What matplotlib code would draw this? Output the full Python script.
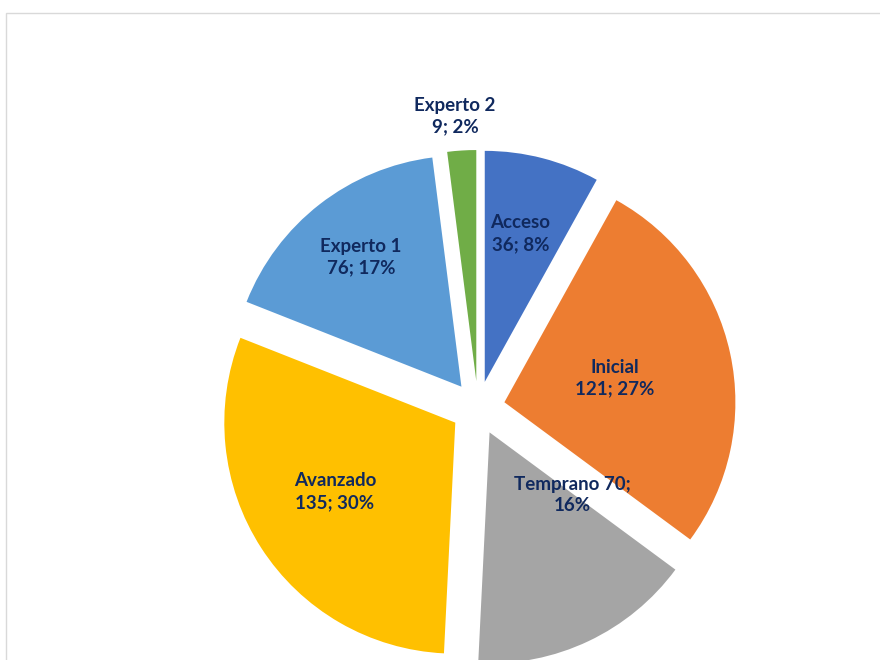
import numpy as np
import matplotlib
matplotlib.use("Agg")
from matplotlib import pyplot as plt
from matplotlib.patches import Rectangle

categories = ["Acceso", "Inicial", "Temprano", "Avanzado", "Experto 1", "Experto 2"]
values = [36, 121, 70, 135, 76, 9]
colors = ["#4472C4", "#ED7D31", "#A5A5A5", "#FFC000", "#5B9BD5", "#70AD47"]
label_texts = ["Acceso\n36; 8%", "Inicial\n121; 27%", "Temprano 70;\n16%",
               "Avanzado\n135; 30%", "Experto 1\n76; 17%", "Experto 2\n9; 2%"]
# label placement: (fraction of radius, angle nudge in degrees)
label_place = [(0.66, 1), (0.49, 0), (0.45, 27.6), (0.60, -3), (0.71, 0), (1.15, 1)]

text_color = "#10295E"


def run():
    fig = plt.figure(figsize=(8.8, 6.6), dpi=100)
    ax = fig.add_axes([0, 0, 1, 1])
    radius = 231
    center = (478, 252)
    explode = [27] * len(values)  # pie explode is in data units here
    wedges, _ = ax.pie(values, colors=colors, startangle=90, counterclock=False,
                       explode=explode, radius=radius, center=center,
                       wedgeprops=dict(linewidth=0))
    for w, txt, (frac, nudge) in zip(wedges, label_texts, label_place):
        mid = np.radians((w.theta1 + w.theta2) / 2. + nudge)
        cx, cy = w.center
        ax.text(cx + frac * radius * np.cos(mid), cy + frac * radius * np.sin(mid),
                txt, ha='center', va='center', color=text_color,
                fontsize=13.5, fontweight='bold', family='Lato', linespacing=1.35)
    ax.set_xlim(0, 880)
    ax.set_ylim(0, 660)
    ax.set_aspect('equal')
    ax.axis('off')
    fig.add_artist(Rectangle((5.5 / 880, -0.1), 2, 1 - 12.5 / 660 + 0.1,
                             transform=fig.transFigure, fill=False,
                             ec='#D9D9D9', lw=1))
    fig.savefig('out.png', dpi=100)


if __name__ == "__main__":
    run()
